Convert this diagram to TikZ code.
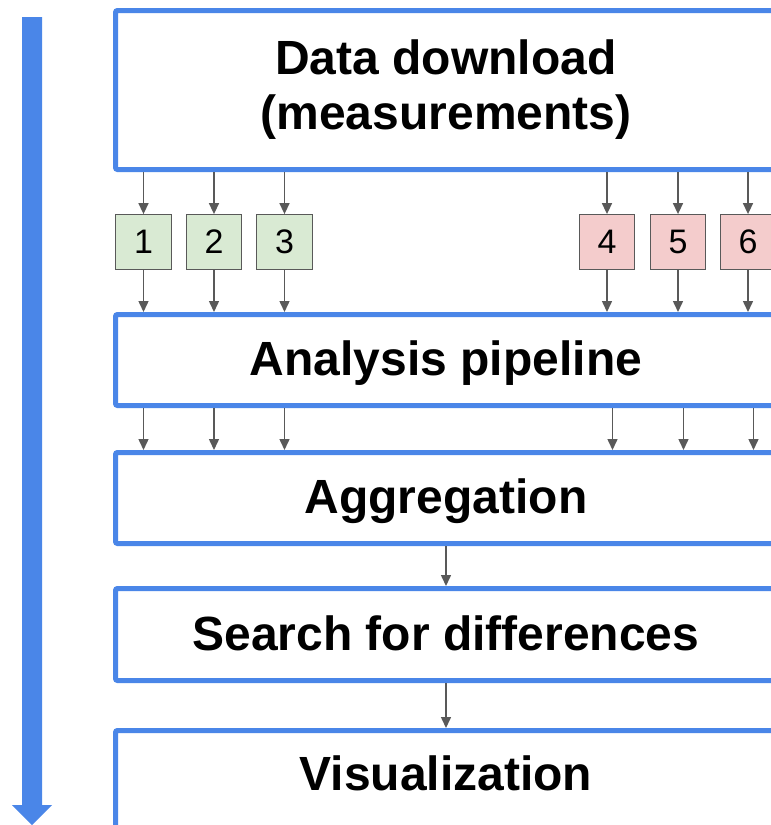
\documentclass[tikz,border=0pt]{standalone}
\usepackage{fontspec}
\setmainfont{Liberation Sans}
\usetikzlibrary{arrows.meta, calc}
\definecolor{stageblue}{HTML}{4A86E8}
\definecolor{linkgrey}{HTML}{595959}
\definecolor{goodgreen}{HTML}{D9EAD3}
\definecolor{badred}{HTML}{F4CCCC}

\begin{document}
\begin{tikzpicture}[x=1pt, y=-1pt, > = {Triangle[length=11pt, width=10pt]},
    stage/.style={draw=stageblue, line width=5pt, rounded corners=2pt, fill=white,
        minimum width=661pt, align=center, text height=38pt, text depth=7pt,
        font=\fontsize{48}{55}\selectfont\bfseries},
    part/.style={draw=linkgrey, line width=1.3pt, inner sep=0pt,
        minimum width=55.5pt, minimum height=54.5pt, font=\fontsize{34}{34}\selectfont},
    link/.style={->, linkgrey, line width=1.5pt}]
    \useasboundingbox (0, 0) rectangle (771, 825);
    \clip (0, 0) rectangle (771, 825);
    % Flow direction
    \fill [stageblue] (22, 17) -- (42, 17) -- (42, 805) -- (52, 805)
        -- (32, 825) -- (12, 805) -- (22, 805) -- cycle;
    % Stages
    \node [stage, minimum height=159pt, text height=, text depth=] (download) at (446, 90)
        {Data download\\(measurements)};
    \node [stage, minimum height=91pt] (pipeline) at (446, 360) {Analysis pipeline};
    \node [stage, minimum height=91pt] (aggregation) at (446, 498) {Aggregation};
    \node [stage, minimum height=92pt] (search) at (446, 634.5) {Search for differences};
    \node [stage, minimum height=111pt, text depth=30pt] (visual) at (446, 786) {Visualization};
    % Measurements
    \foreach \n/\x in {1/143.5, 2/214, 3/284.5}
        \node [part, fill=goodgreen] (p\n) at (\x, 242) {\n};
    \foreach \n/\x in {4/607, 5/678, 6/748}
        \node [part, fill=badred] (p\n) at (\x, 242) {\n};
    %% Links
    \foreach \n in {1,...,6} {
        \draw [link] (download.south -| p\n) -- (p\n.north);
        \draw [link] (p\n.south) -- (pipeline.north -| p\n);
    }
    \foreach \n in {1,2,3}
        \draw [link] (pipeline.south -| p\n) -- (aggregation.north -| p\n);
    \foreach \n in {4,5,6}
        \draw [link] ($(pipeline.south -| p\n) + (5.5, 0)$)
            -- ($(aggregation.north -| p\n) + (5.5, 0)$);
    \draw [link] (aggregation) -- (search);
    \draw [link] (search) -- (visual);
\end{tikzpicture}
\end{document}
